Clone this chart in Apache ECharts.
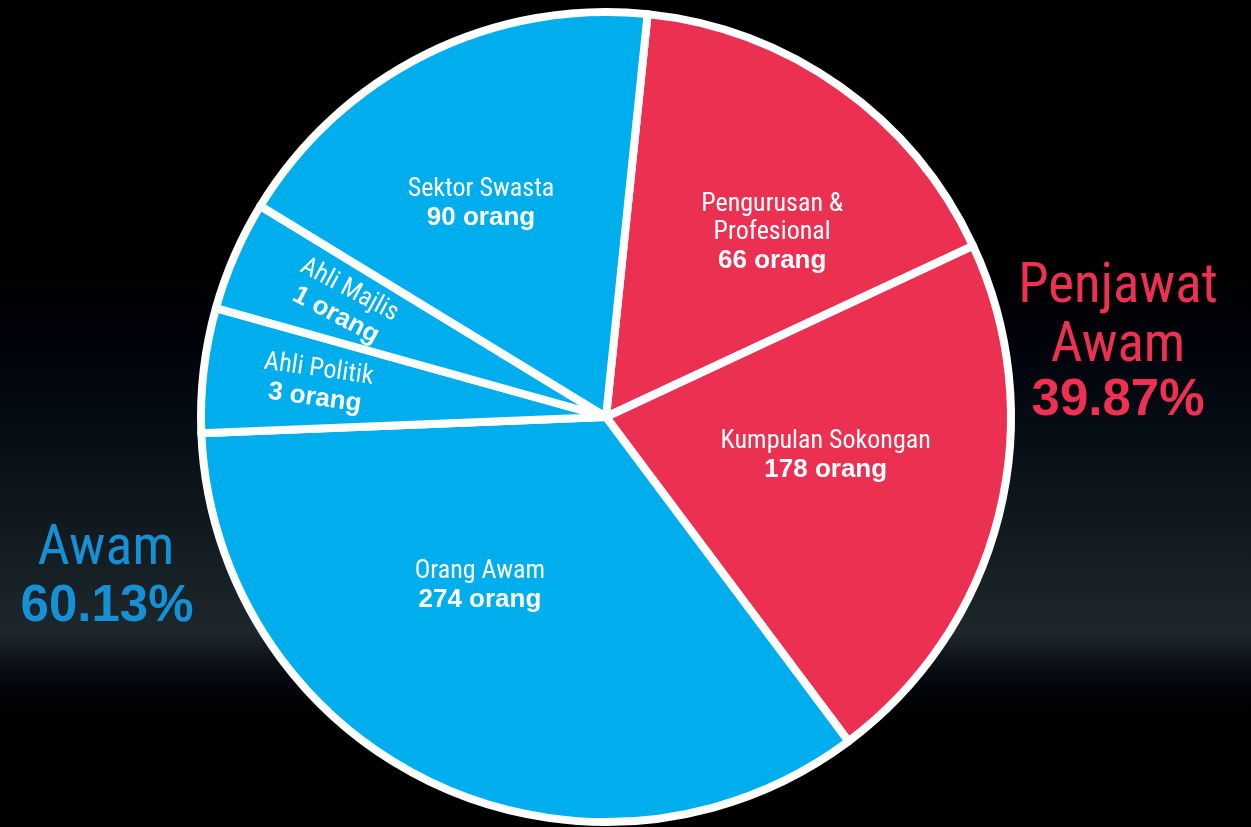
<!DOCTYPE html>
<html>
<head>
<meta charset="utf-8">
<script src="https://cdn.jsdelivr.net/npm/echarts@6/dist/echarts.min.js"></script>
<style>
html,body{margin:0;padding:0;background:#000;overflow:hidden;}
#chart{width:1251px;height:827px;}
</style>
</head>
<body>
<div id="chart"></div>
<script>
// ---- data ----
const categories = ['Pengurusan &\nProfesional', 'Kumpulan Sokongan', 'Orang Awam', 'Ahli Politik', 'Ahli Majlis', 'Sektor Swasta'];
const headcounts = [66, 178, 274, 3, 1, 90];
// slice sizes as drawn in the picture (degrees of the circle)
const sliceDegrees = [59.1, 78.2, 124.5, 17.9, 15.8, 64.5];
const groups = ['Penjawat Awam', 'Penjawat Awam', 'Awam', 'Awam', 'Awam', 'Awam'];
const groupNames = ['Penjawat Awam', 'Awam'];

// ---- styling / layout ----
const NARROW = "'Liberation Sans Narrow', 'Arial Narrow', 'Roboto Condensed', 'Liberation Sans', sans-serif";
const BOLD = "'Liberation Sans', Arial, sans-serif";
const groupColors = { 'Penjawat Awam': '#ec3051', 'Awam': '#00aeed' };
const groupTextColors = { 'Penjawat Awam': '#ee3152', 'Awam': '#1690d4' };
const CX = 606, CY = 417, R = 405;
// label placement: [angle clockwise from north, radius fraction, rotation]
const labelSpots = [[42.1, 0.612, 0], [100.1, 0.551, 0], [216.7, 0.521, 0], [276.5, 0.719, -8], [293.4, 0.709, -28], [329.6, 0.61, 0]];

const total = headcounts.reduce((a, b) => a + b, 0);
function groupPct(g) {
  let s = 0;
  headcounts.forEach((v, i) => { if (groups[i] === g) s += v; });
  return (s / total * 100).toFixed(2) + '%';
}

const pieData = categories.map((name, i) => ({
  name: name,
  value: sliceDegrees[i],
  count: headcounts[i],
  itemStyle: { color: groupColors[groups[i]] }
}));

const chart = echarts.init(document.getElementById('chart'), null, { renderer: 'canvas' });
chart.setOption({
  animation: false,
  backgroundColor: {
    type: 'linear', x: 0, y: 0, x2: 0, y2: 1,
    colorStops: [
      { offset: 0, color: '#000000' },
      { offset: 0.32, color: '#000000' },
      { offset: 0.42, color: '#01030b' },
      { offset: 0.51, color: '#050c14' },
      { offset: 0.6, color: '#0e161c' },
      { offset: 0.7, color: '#172025' },
      { offset: 0.765, color: '#1e272c' },
      { offset: 0.8, color: '#0d1318' },
      { offset: 0.83, color: '#03050c' },
      { offset: 0.86, color: '#000000' },
      { offset: 1, color: '#000000' }
    ]
  },
  series: [{
    type: 'pie',
    center: [CX, CY],
    radius: R,
    startAngle: 90 - 5.9,
    clockwise: true,
    silent: true,
    avoidLabelOverlap: false,
    itemStyle: { borderColor: '#ffffff', borderWidth: 8, borderJoin: 'round' },
    emphasis: { disabled: true },
    labelLine: { show: false },
    label: {
      show: true,
      position: 'inside',
      align: 'center',
      formatter: function (p) {
        const lines = p.name.split('\n').map(t => '{n|' + t + '}');
        lines.push('{b|' + p.data.count + ' orang}');
        return lines.join('\n');
      },
      rich: {
        n: { fontFamily: NARROW, fontSize: 26, color: '#ffffff', lineHeight: 28, align: 'center' },
        b: { fontFamily: BOLD, fontWeight: 'bold', fontSize: 26, color: '#ffffff', lineHeight: 29, align: 'center' }
      }
    },
    labelLayout: function (params) {
      const s = labelSpots[params.dataIndex];
      const a = s[0] * Math.PI / 180;
      return {
        x: CX + s[1] * R * Math.sin(a),
        y: CY - s[1] * R * Math.cos(a),
        rotate: s[2],
        align: 'center',
        verticalAlign: 'middle'
      };
    },
    data: pieData
  }],
  graphic: [
    { type: 'text', x: 1118, y: 288, style: { text: 'Penjawat', font: '55px ' + NARROW, fill: groupTextColors['Penjawat Awam'], textAlign: 'center', textVerticalAlign: 'middle' } },
    { type: 'text', x: 1118, y: 347, style: { text: 'Awam', font: '55px ' + NARROW, fill: groupTextColors['Penjawat Awam'], textAlign: 'center', textVerticalAlign: 'middle' } },
    { type: 'text', x: 1118, y: 401, style: { text: groupPct(groupNames[0]), font: 'bold 51px ' + BOLD, fill: groupTextColors['Penjawat Awam'], textAlign: 'center', textVerticalAlign: 'middle' } },
    { type: 'text', x: 106, y: 550, style: { text: groupNames[1], font: '56px ' + NARROW, fill: groupTextColors['Awam'], textAlign: 'center', textVerticalAlign: 'middle' } },
    { type: 'text', x: 107, y: 607, style: { text: groupPct(groupNames[1]), font: 'bold 51px ' + BOLD, fill: groupTextColors['Awam'], textAlign: 'center', textVerticalAlign: 'middle' } }
  ]
});
</script>
</body>
</html>
